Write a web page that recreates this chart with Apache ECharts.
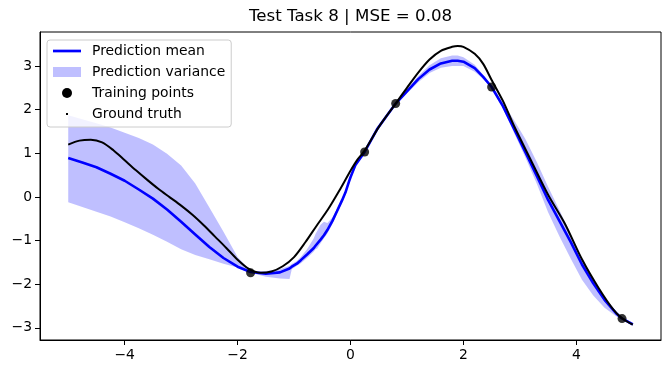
<!DOCTYPE html>
<html>
<head>
<meta charset="utf-8">
<script src="https://cdn.jsdelivr.net/npm/echarts@6/dist/echarts.min.js"></script>
<style>
html,body{margin:0;padding:0;background:#fff;}
#chart{width:670px;height:374px;}
</style>
</head>
<body>
<div id="chart"></div>
<script>
// ---- Data ----
const titleText = 'Test Task 8 | MSE = 0.08';

const gtX = [-5.0, -4.8, -4.6, -4.4, -4.2, -4.0, -3.8, -3.6, -3.4, -3.2, -3.0, -2.8, -2.6, -2.4, -2.2, -2.0, -1.8, -1.6, -1.4, -1.2, -1.0, -0.8, -0.6, -0.4, -0.2, 0.0, 0.12, 0.25, 0.5, 0.8, 1.0, 1.2, 1.4, 1.6, 1.8, 1.9, 2.0, 2.2, 2.35, 2.5, 2.7, 2.9, 3.2, 3.5, 3.8, 4.1, 4.4, 4.66, 4.81, 5.0];
const gtY = [1.20, 1.29, 1.31, 1.25, 1.07, 0.84, 0.61, 0.39, 0.18, -0.01, -0.20, -0.41, -0.65, -0.91, -1.17, -1.44, -1.65, -1.74, -1.71, -1.59, -1.38, -1.04, -0.66, -0.29, 0.14, 0.60, 0.85, 1.06, 1.60, 2.14, 2.50, 2.85, 3.15, 3.35, 3.44, 3.46, 3.44, 3.28, 3.05, 2.68, 2.20, 1.62, 0.83, 0.05, -0.62, -1.43, -2.10, -2.59, -2.78, -2.93];

const predX = [-5.0, -4.75, -4.5, -4.25, -4.0, -3.75, -3.5, -3.25, -3.0, -2.75, -2.5, -2.25, -2.0, -1.77, -1.5, -1.25, -1.08, -1.04, -0.95, -0.88, -0.77, -0.65, -0.62, -0.59, -0.53, -0.47, -0.41, -0.32, -0.24, -0.15, -0.09, -0.03, 0.0, 0.09, 0.25, 0.47, 0.8, 1.0, 1.2, 1.4, 1.6, 1.8, 1.9, 2.0, 2.2, 2.35, 2.5, 2.7, 2.9, 3.1, 3.3, 3.5, 3.7, 3.9, 4.1, 4.3, 4.5, 4.7, 4.8, 5.0];
const predMean = [0.89, 0.79, 0.68, 0.53, 0.37, 0.17, -0.04, -0.29, -0.57, -0.86, -1.15, -1.40, -1.60, -1.72, -1.76, -1.73, -1.64, -1.60, -1.53, -1.45, -1.32, -1.17, -1.12, -1.11, -0.98, -0.88, -0.76, -0.55, -0.33, -0.08, 0.10, 0.34, 0.45, 0.74, 1.03, 1.55, 2.14, 2.42, 2.70, 2.92, 3.06, 3.12, 3.12, 3.10, 2.95, 2.75, 2.52, 2.08, 1.55, 1.02, 0.48, -0.07, -0.55, -1.03, -1.55, -1.98, -2.36, -2.66, -2.78, -2.92];
const predUpper = [1.87, 1.78, 1.69, 1.59, 1.47, 1.35, 1.20, 0.99, 0.72, 0.31, -0.24, -0.80, -1.38, -1.70, -1.70, -1.66, -1.58, -1.54, -1.47, -1.38, -1.20, -0.95, -0.85, -0.78, -0.64, -0.57, -0.60, -0.47, -0.27, -0.03, 0.15, 0.39, 0.50, 0.79, 1.06, 1.60, 2.17, 2.47, 2.77, 3.02, 3.18, 3.24, 3.24, 3.20, 3.03, 2.80, 2.55, 2.16, 1.75, 1.32, 0.80, 0.23, -0.30, -0.85, -1.43, -1.90, -2.32, -2.64, -2.77, -2.88];
const predLower = [-0.12, -0.23, -0.34, -0.45, -0.58, -0.72, -0.87, -1.03, -1.20, -1.33, -1.43, -1.53, -1.62, -1.74, -1.83, -1.87, -1.88, -1.66, -1.58, -1.52, -1.40, -1.25, -1.20, -1.18, -1.06, -0.95, -0.84, -0.62, -0.39, -0.14, 0.05, 0.29, 0.40, 0.69, 1.00, 1.50, 2.11, 2.37, 2.63, 2.84, 2.96, 3.00, 3.00, 3.00, 2.87, 2.70, 2.49, 2.03, 1.46, 0.90, 0.30, -0.35, -0.90, -1.41, -1.90, -2.26, -2.54, -2.73, -2.80, -2.96];

const trainX = [-1.77, 0.25, 0.80, 2.50, 4.81];
const trainY = [-1.74, 1.03, 2.14, 2.52, -2.79];

const xTicks = [-4, -2, 0, 2, 4];
const yTicks = [-3, -2, -1, 0, 1, 2, 3];

// ---- Build series data ----
const zip = (xs, ys) => xs.map((x, i) => [x, ys[i]]);
const gtData = zip(gtX, gtY);
const meanData = zip(predX, predMean);
const bandData = predX.map((x, i) => [x, predLower[i], predUpper[i]]);
const trainData = zip(trainX, trainY);

const FONT = 'DejaVu Sans';
const fmt = v => String(v).replace('-', '\u2212');
const BAND = 'rgba(0,0,255,0.25)';

// measure title to center it on the plot area
const ctx = document.createElement('canvas').getContext('2d');
ctx.font = '16.67px "DejaVu Sans"';
const titleW = ctx.measureText(titleText).width;

const gridLeft = 40, gridTop = 32, gridW = 621, gridH = 308;

const axisCommon = (ticks) => ({
  type: 'value',
  splitLine: {show: false},
  axisLine: {show: true, onZero: false, lineStyle: {color: '#000', width: 1}},
  axisTick: {show: true, length: 5, lineStyle: {color: '#000', width: 1}, customValues: ticks},
  axisLabel: {customValues: ticks, formatter: fmt, fontFamily: FONT, fontSize: 13.9, color: '#000', margin: 8}
});

const chart = echarts.init(document.getElementById('chart'), null, {renderer: 'canvas'});
chart.setOption({
  animation: false,
  backgroundColor: '#fff',
  title: {
    text: titleText,
    left: gridLeft + gridW / 2 - titleW / 2 - 5,
    top: 3,
    textStyle: {fontFamily: FONT, fontSize: 16.67, fontWeight: 'normal', color: '#000'}
  },
  grid: {left: gridLeft, top: gridTop, width: gridW, height: gridH, show: true, borderColor: '#000', borderWidth: 1, backgroundColor: 'transparent'},
  legend: {
    orient: 'vertical',
    left: 47, top: 40,
    padding: [3, 6, 5, 6],
    itemWidth: 28, itemHeight: 10, itemGap: 5,
    backgroundColor: 'rgba(255,255,255,0.8)',
    borderColor: '#cccccc', borderWidth: 1, borderRadius: 3,
    selectedMode: false,
    textStyle: {fontFamily: FONT, fontSize: 13.9, color: '#000', lineHeight: 16, padding: [0, 0, 0, 6]},
    data: [
      {name: 'Prediction mean', icon: 'path://M0,0M28,10M0,3.65L28,3.65L28,6.35L0,6.35Z', itemStyle: {color: '#0000ff', borderWidth: 0, opacity: 1}},
      {name: 'Prediction variance', icon: 'rect', itemStyle: {color: BAND, borderWidth: 0, opacity: 1}},
      {name: 'Training points', icon: 'circle', itemStyle: {color: '#000', borderWidth: 0, opacity: 1}},
      {name: 'Ground truth', icon: 'path://M0,0M28,10M13,4L15,4L15,6L13,6Z', itemStyle: {color: '#000', borderWidth: 0, opacity: 1}}
    ]
  },
  xAxis: Object.assign(axisCommon(xTicks), {min: -5.5, max: 5.5}),
  yAxis: Object.assign(axisCommon(yTicks), {min: -3.28, max: 3.78}),
  series: [
    {
      name: 'Prediction variance', type: 'custom', data: bandData,
      encode: {x: 0, y: [1, 2]},
      itemStyle: {color: BAND}, silent: true, z: 1,
      renderItem: function (params, api) {
        if (params.dataIndexInside !== 0) return null;
        const n = params.dataInsideLength;
        const pts = [];
        for (let i = 0; i < n; i++) pts.push(api.coord([api.value(0, i), api.value(2, i)]));
        for (let i = n - 1; i >= 0; i--) pts.push(api.coord([api.value(0, i), api.value(1, i)]));
        return {type: 'polygon', shape: {points: pts}, style: {fill: BAND, stroke: null}};
      }
    },
    {
      name: 'Prediction mean', type: 'line', data: meanData, symbol: 'none', smooth: false,
      lineStyle: {color: '#0000ff', width: 2.6}, itemStyle: {color: '#0000ff'}, z: 2
    },
    {
      name: 'Training points', type: 'scatter', data: trainData, symbol: 'circle', symbolSize: 9,
      itemStyle: {color: '#000'}, z: 3
    },
    {
      name: 'Ground truth', type: 'line', data: gtData, symbol: 'none', smooth: 0.3,
      lineStyle: {color: '#000', width: 2}, itemStyle: {color: '#000'}, z: 4
    }
  ]
});
</script>
</body>
</html>
